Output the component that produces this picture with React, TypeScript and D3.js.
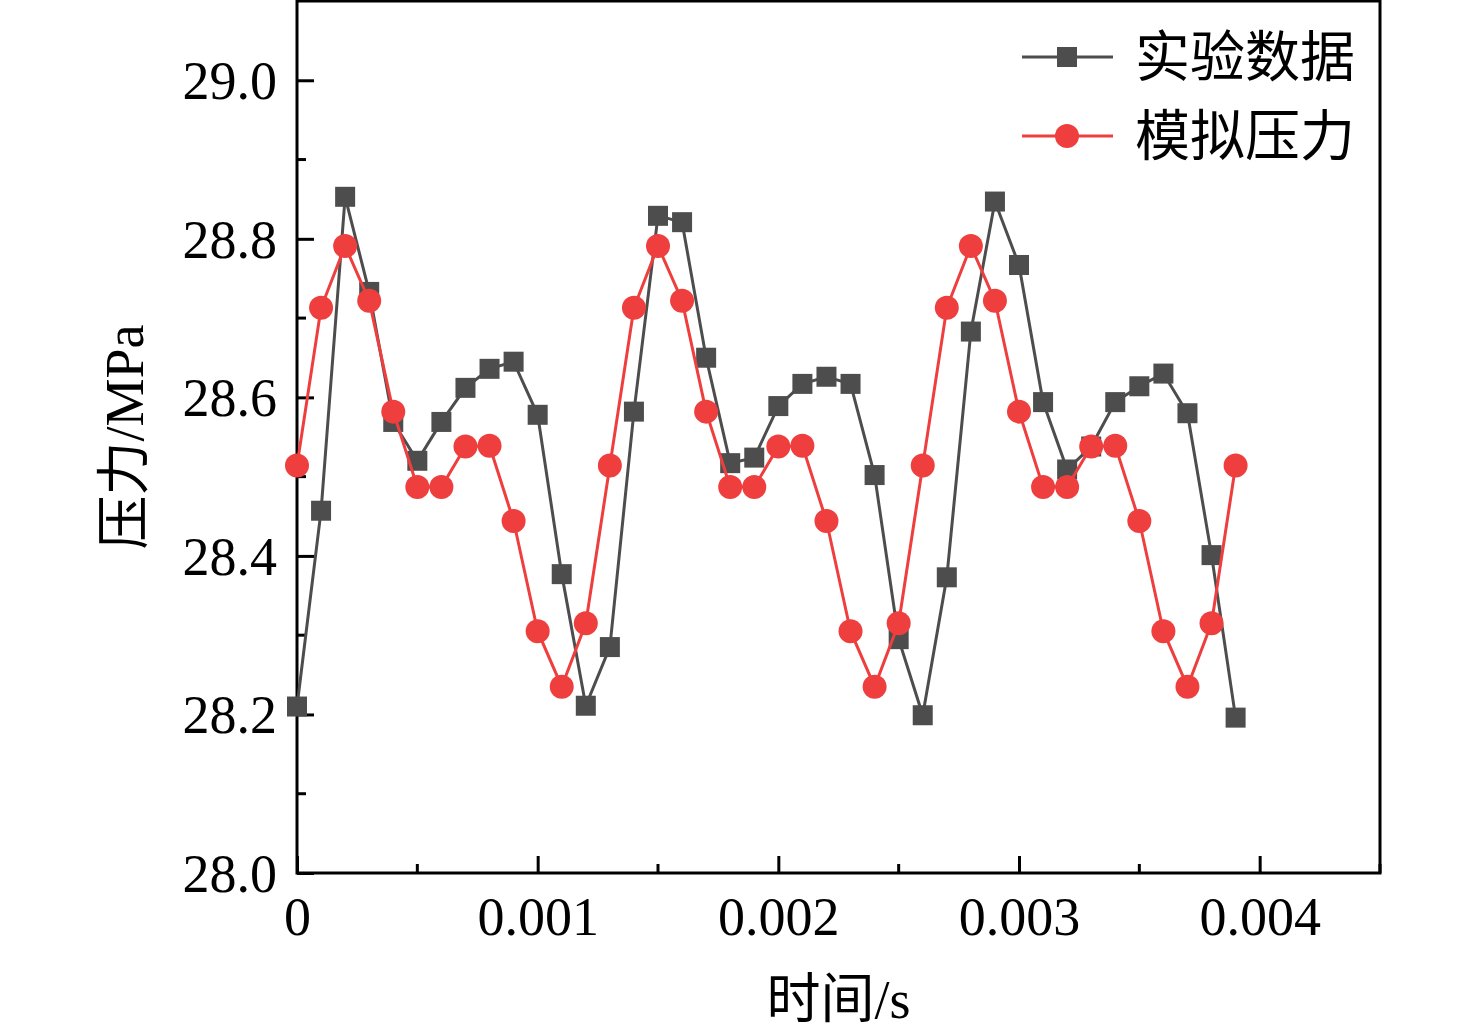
import { useEffect, useRef } from 'react';
import * as d3 from 'd3';

// time steps in seconds (0 .. 0.0039, step 0.0001)
const timeSteps = [
  0, 0.0001, 0.0002, 0.0003, 0.0004, 0.0005, 0.0006, 0.0007, 0.0008, 0.0009,
  0.001, 0.0011, 0.0012, 0.0013, 0.0014, 0.0015, 0.0016, 0.0017, 0.0018, 0.0019,
  0.002, 0.0021, 0.0022, 0.0023, 0.0024, 0.0025, 0.0026, 0.0027, 0.0028, 0.0029,
  0.003, 0.0031, 0.0032, 0.0033, 0.0034, 0.0035, 0.0036, 0.0037, 0.0038, 0.0039,
];

// 实验数据 (MPa)
const expValues = [
  28.21, 28.457, 28.853, 28.733, 28.569, 28.52, 28.569, 28.612, 28.636, 28.645,
  28.578, 28.377, 28.211, 28.285, 28.582, 28.829, 28.821, 28.65, 28.517, 28.524,
  28.589, 28.617, 28.626, 28.617, 28.502, 28.295, 28.199, 28.373, 28.683, 28.847,
  28.767, 28.594, 28.509, 28.538, 28.594, 28.614, 28.63, 28.58, 28.401, 28.196,
];

// 模拟压力 (MPa)
const simValues = [
  28.514, 28.713, 28.791, 28.722, 28.582, 28.487, 28.487, 28.538, 28.539, 28.444,
  28.305, 28.235, 28.315, 28.514, 28.713, 28.791, 28.722, 28.582, 28.487, 28.487,
  28.538, 28.539, 28.444, 28.305, 28.235, 28.315, 28.514, 28.713, 28.791, 28.722,
  28.582, 28.487, 28.487, 28.538, 28.539, 28.444, 28.305, 28.235, 28.315, 28.514,
];

const xTicks = [0, 0.001, 0.002, 0.003, 0.004];
const xTickLabels = ['0', '0.001', '0.002', '0.003', '0.004'];
const yTicks = [28.0, 28.2, 28.4, 28.6, 28.8, 29.0];

const seriesNames = ['实验数据', '模拟压力'];

const W = 1476;
const H = 1036;
const serif = '"Liberation Serif", "Times New Roman", "Noto Sans CJK SC", serif';
const cjk = '"Liberation Serif", "Noto Sans CJK SC", serif';

export default function App() {
  const ref = useRef<SVGSVGElement>(null);

  useEffect(() => {
    if (!ref.current) return;
    const svg = d3.select(ref.current);
    svg.selectAll('*').remove();

    const left = 297;
    const right = 1380;
    const top = 1;
    const bottom = 873;

    const x = d3.scaleLinear().domain([0, 0.0045]).range([left, right]);
    const y = d3.scaleLinear().domain([28, 29.1]).range([bottom, top]);

    const black = '#4d4d4d';
    const red = '#ee3e3e';

    // frame
    svg
      .append('rect')
      .attr('x', left)
      .attr('y', top)
      .attr('width', right - left)
      .attr('height', bottom - top)
      .attr('fill', 'none')
      .attr('stroke', '#000')
      .attr('stroke-width', 3);

    // x axis ticks (inward)
    const xMinor = d3.range(0, 0.0045 + 1e-9, 0.0005);
    const xAxis = d3
      .axisBottom(x)
      .tickValues(xTicks)
      .tickSize(-17)
      .tickFormat((_, i) => xTickLabels[i]);
    const gx = svg.append('g').attr('transform', `translate(0,${bottom})`).call(xAxis);
    gx.select('.domain').remove();
    gx.selectAll('line').attr('stroke-width', 3);
    gx.selectAll('text')
      .attr('y', 62)
      .attr('dy', 0)
      .style('font-family', serif)
      .style('font-size', '54px')
      .attr('fill', '#000');
    svg
      .append('g')
      .selectAll('line')
      .data(xMinor.filter((v) => !xTicks.some((t) => Math.abs(t - v) < 1e-9)))
      .enter()
      .append('line')
      .attr('x1', (d) => x(d))
      .attr('x2', (d) => x(d))
      .attr('y1', bottom)
      .attr('y2', bottom - 9)
      .attr('stroke', '#000')
      .attr('stroke-width', 3);

    // y axis ticks (inward)
    const yAxis = d3
      .axisLeft(y)
      .tickValues(yTicks)
      .tickSize(-17)
      .tickFormat((d) => d3.format('.1f')(Number(d)));
    const gy = svg.append('g').attr('transform', `translate(${left},0)`).call(yAxis);
    gy.select('.domain').remove();
    gy.selectAll('line').attr('stroke-width', 3);
    gy.selectAll('text')
      .attr('x', -20)
      .attr('dy', '0.34em')
      .style('font-family', serif)
      .style('font-size', '54px')
      .attr('fill', '#000');
    const yMinor = d3.range(28.1, 29.05, 0.2);
    svg
      .append('g')
      .selectAll('line')
      .data(yMinor)
      .enter()
      .append('line')
      .attr('x1', left)
      .attr('x2', left + 9)
      .attr('y1', (d) => y(d))
      .attr('y2', (d) => y(d))
      .attr('stroke', '#000')
      .attr('stroke-width', 3);

    // axis titles
    svg
      .append('text')
      .attr('x', x(0.00225))
      .attr('y', 1018)
      .attr('text-anchor', 'middle')
      .style('font-family', cjk)
      .style('font-size', '54px')
      .text('时间/s');
    svg
      .append('text')
      .attr('transform', `translate(143,${y(28.55)}) rotate(-90)`)
      .attr('text-anchor', 'middle')
      .style('font-family', cjk)
      .style('font-size', '54px')
      .text('压力/MPa');

    const line = d3
      .line<number>()
      .x((_, i) => x(timeSteps[i]))
      .y((d) => y(d));

    // experimental series
    svg
      .append('path')
      .datum(expValues)
      .attr('fill', 'none')
      .attr('stroke', black)
      .attr('stroke-width', 3)
      .attr('d', line);
    svg
      .append('g')
      .selectAll('rect')
      .data(expValues)
      .enter()
      .append('rect')
      .attr('x', (_, i) => x(timeSteps[i]) - 10)
      .attr('y', (d) => y(d) - 10)
      .attr('width', 20)
      .attr('height', 20)
      .attr('fill', black);

    // simulated series
    svg
      .append('path')
      .datum(simValues)
      .attr('fill', 'none')
      .attr('stroke', red)
      .attr('stroke-width', 3)
      .attr('d', line);
    svg
      .append('g')
      .selectAll('circle')
      .data(simValues)
      .enter()
      .append('circle')
      .attr('cx', (_, i) => x(timeSteps[i]))
      .attr('cy', (d) => y(d))
      .attr('r', 12)
      .attr('fill', red);

    // legend
    const legend = svg.append('g');
    [black, red].forEach((c, i) => {
      const ly = 57 + i * 79;
      legend
        .append('line')
        .attr('x1', 1022)
        .attr('x2', 1113)
        .attr('y1', ly)
        .attr('y2', ly)
        .attr('stroke', c)
        .attr('stroke-width', 3);
      if (i === 0) {
        legend
          .append('rect')
          .attr('x', 1057)
          .attr('y', ly - 10)
          .attr('width', 20)
          .attr('height', 20)
          .attr('fill', c);
      } else {
        legend.append('circle').attr('cx', 1067).attr('cy', ly).attr('r', 12).attr('fill', c);
      }
      legend
        .append('text')
        .attr('x', 1135)
        .attr('y', ly + 19)
        .style('font-family', cjk)
        .style('font-size', '55px')
        .text(seriesNames[i]);
    });
  }, []);

  return (
    <div style={{ position: 'absolute', left: 0, top: 0, background: '#fff' }}>
      <svg ref={ref} width={W} height={H} style={{ display: 'block' }} />
    </div>
  );
}
